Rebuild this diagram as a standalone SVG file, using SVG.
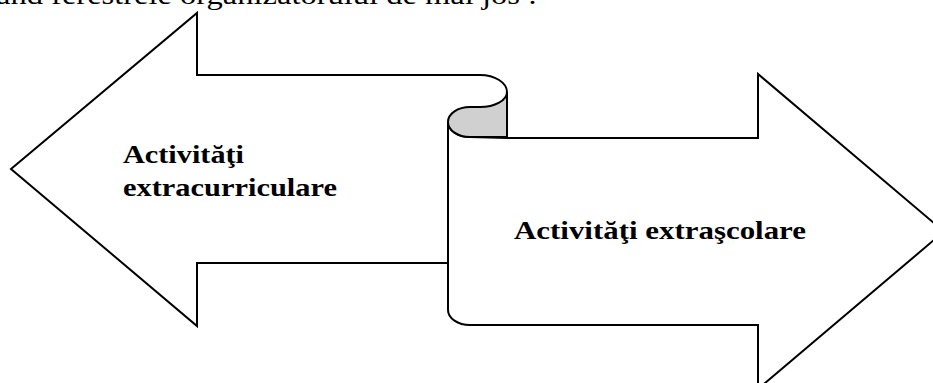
<svg xmlns="http://www.w3.org/2000/svg" width="933" height="383" viewBox="0 0 933 383">
<style>
.shape{fill:#ffffff;stroke:#000000;stroke-width:2;stroke-linejoin:miter}
.curl{fill:#d0d0d0;stroke:#000000;stroke-width:2}
.lbl{font-family:"Liberation Serif","Times New Roman",serif;font-weight:bold;font-size:26px;fill:#000000}
.top{font-family:"Liberation Serif","Times New Roman",serif;font-size:28px;fill:#000000}
</style>
<rect width="933" height="383" fill="#ffffff"/>
<text class="top" x="-4" y="4" textLength="541" lengthAdjust="spacingAndGlyphs">ând ferestrele organizatorului de mai jos :</text>
<g id="left-arrow">
  <path class="shape" d="M448,263 L197,263 L197,326 L11,169 L197,13 L197,75 L480,75 A27,17 0 0 1 507,92 L507,138 L448,138 Z"/>
  <text class="lbl" x="123" y="163" textLength="121" lengthAdjust="spacingAndGlyphs">Activităţi</text>
  <text class="lbl" x="123" y="196" textLength="214" lengthAdjust="spacingAndGlyphs">extracurriculare</text>
</g>
<g id="right-arrow">
  <path class="shape" d="M448,122 L448,310 A22,15 0 0 0 470,325 L758,325 L758,389 L944,231.5 L758,74 L758,138 L507,138 L470,137 A22,15 0 0 1 448,122 Z"/>
  <path class="curl" d="M507,92 A27,15 0 0 1 480,107 L470,107 A22,15 0 0 0 448,122 A22,15 0 0 0 470,137 L507,137 Z"/>
  <text class="lbl" x="514" y="239" textLength="292" lengthAdjust="spacingAndGlyphs">Activităţi extraşcolare</text>
</g>
</svg>
